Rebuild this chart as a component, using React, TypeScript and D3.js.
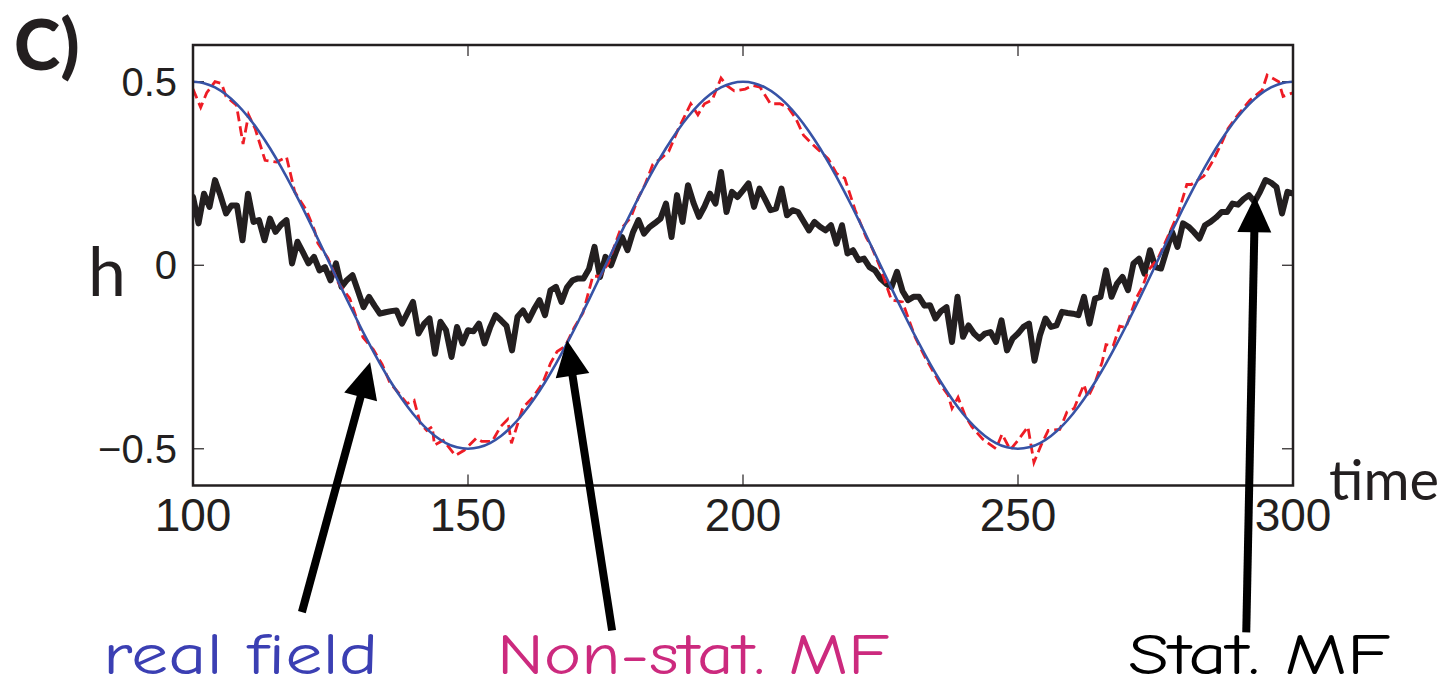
import React from "react";
import * as d3 from "d3";

// ---------- data ----------
const xTicks = [100, 150, 200, 250, 300];
const yTicks = [-0.5, 0, 0.5];
const yTickLabels = ["\u22120.5", "0", "0.5"];

// real field (step 2 in time, from t=100)
const realField = [
  0.5, 0.4961, 0.4843, 0.4649, 0.4382, 0.4045, 0.3645, 0.3187, 0.2679, 0.2129, 0.1545, 0.0937, 0.0314,
  -0.0314, -0.0937, -0.1545, -0.2129, -0.2679, -0.3187, -0.3645, -0.4045, -0.4382, -0.4649, -0.4843, -0.4961, -0.5,
  -0.4961, -0.4843, -0.4649, -0.4382, -0.4045, -0.3645, -0.3187, -0.2679, -0.2129, -0.1545, -0.0937, -0.0314,
  0.0314, 0.0937, 0.1545, 0.2129, 0.2679, 0.3187, 0.3645, 0.4045, 0.4382, 0.4649, 0.4843, 0.4961, 0.5,
  0.4961, 0.4843, 0.4649, 0.4382, 0.4045, 0.3645, 0.3187, 0.2679, 0.2129, 0.1545, 0.0937, 0.0314,
  -0.0314, -0.0937, -0.1545, -0.2129, -0.2679, -0.3187, -0.3645, -0.4045, -0.4382, -0.4649, -0.4843, -0.4961, -0.5,
  -0.4961, -0.4843, -0.4649, -0.4382, -0.4045, -0.3645, -0.3187, -0.2679, -0.2129, -0.1545, -0.0937, -0.0314,
  0.0314, 0.0937, 0.1545, 0.2129, 0.2679, 0.3187, 0.3645, 0.4045, 0.4382, 0.4649, 0.4843, 0.4961, 0.5,
];

// non-stationary MF (irregular samples)
const nonStatTimes = [
  100, 101.4, 102.5, 104, 105.2, 106, 107.9, 109.1, 110.1, 111.3, 113.1, 115.2, 117, 118.5, 120.6, 122.1, 122.7,
  124.5, 126.5, 128.5, 130.9, 132.8, 134.4, 135.8, 137.5, 138.9, 140.2, 141.3, 142.5, 143.5, 143.9, 145.5, 147.7,
  149.3, 151.5, 152.5, 154.4, 155.9, 157.2, 157.9, 160, 161.8, 163.6, 165, 166.2, 167.7, 169.3, 170.9, 172.7, 174,
  175.5, 177.7, 179.6, 181, 182.2, 183.6, 185, 186.5, 188.2, 190.5, 191.8, 193, 194.4, 196, 197, 198.4, 200.4,
  201.8, 203.1, 205, 206.7, 208.2, 209.6, 211, 213.3, 215.5, 217, 218.5, 220.4, 222.4, 223.5, 225, 227, 229,
  231.3, 233.1, 234.6, 236, 237.3, 238, 239.1, 240.4, 241.6, 243.6, 246, 247.1, 248.6, 250, 251.8, 252.9, 254.2,
  255.5, 257.6, 258.9, 260.2, 261.1, 262, 262.7, 264, 265.3, 266, 267.3, 268.5, 269.6, 271.5, 272.7, 273.7, 275.5,
  277.3, 279.1, 280.7, 281.5, 283.8, 285.5, 287, 288.2, 290, 292.2, 294.4, 295.3, 297.4, 298.2, 300,
];
const nonStatValues = [
  0.48, 0.43, 0.47, 0.5, 0.495, 0.46, 0.436, 0.33, 0.41, 0.372, 0.286, 0.281, 0.295, 0.2, 0.15, 0.095, 0.06,
  0.02, -0.05, -0.09, -0.196, -0.23, -0.27, -0.32, -0.35, -0.377, -0.368, -0.43, -0.45, -0.44, -0.49, -0.477, -0.518,
  -0.504, -0.471, -0.48, -0.48, -0.44, -0.42, -0.485, -0.387, -0.36, -0.32, -0.267, -0.235, -0.22, -0.17, -0.13, -0.03, -0.03,
  0.005, 0.097, 0.13, 0.185, 0.22, 0.275, 0.29, 0.31, 0.37, 0.44, 0.41, 0.44, 0.45, 0.51, 0.49, 0.475, 0.48,
  0.49, 0.485, 0.44, 0.44, 0.43, 0.4, 0.354, 0.32, 0.29, 0.25, 0.237, 0.15, 0.076, 0.046, -0.008, -0.095, -0.1,
  -0.196, -0.25, -0.29, -0.327, -0.354, -0.39, -0.36, -0.41, -0.44, -0.474, -0.5, -0.46, -0.503, -0.477, -0.44, -0.537, -0.49,
  -0.45, -0.447, -0.4, -0.39, -0.357, -0.325, -0.36, -0.32, -0.264, -0.216, -0.22, -0.166, -0.17, -0.09, -0.056, -0.014, 0.02,
  0.08, 0.14, 0.22, 0.22, 0.243, 0.286, 0.332, 0.373, 0.41, 0.45, 0.477, 0.518, 0.5, 0.46, 0.47,
];

// stationary MF (one sample per time unit, from t=100)
const statMF = [
  0.186, 0.114, 0.195, 0.159, 0.232, 0.19, 0.141, 0.163, 0.163, 0.068,
  0.195, 0.118, 0.123, 0.068, 0.127, 0.091, 0.11, 0.123, 0.005, 0.064,
  0.035, 0.005, 0.023, -0.014, -0.005, -0.041, 0.005, -0.059, -0.04, -0.027,
  -0.07, -0.114, -0.086, -0.11, -0.132, -0.128, -0.125, -0.123, -0.159, -0.13,
  -0.1, -0.186, -0.16, -0.145, -0.241, -0.154, -0.177, -0.25, -0.168, -0.213,
  -0.177, -0.18, -0.159, -0.213, -0.17, -0.136, -0.15, -0.165, -0.232, -0.14,
  -0.123, -0.15, -0.12, -0.095, -0.136, -0.068, -0.059, -0.1, -0.06, -0.041,
  -0.036, -0.036, -0.01, 0.05, -0.032, 0.023, 0, 0.04, 0.077, 0.041,
  0.09, 0.123, 0.086, 0.104, 0.115, 0.127, 0.168, 0.077, 0.191, 0.118,
  0.218, 0.17, 0.132, 0.16, 0.195, 0.168, 0.254, 0.145, 0.2, 0.186,
  0.204, 0.223, 0.159, 0.209, 0.18, 0.15, 0.154, 0.209, 0.136, 0.15,
  0.145, 0.12, 0.095, 0.118, 0.105, 0.095, 0.109, 0.059, 0.109, 0.032,
  0.041, 0.014, 0.018, -0.005, -0.014, -0.036, -0.05, -0.059, -0.018, -0.07,
  -0.095, -0.086, -0.086, -0.11, -0.109, -0.145, -0.125, -0.114, -0.209, -0.086,
  -0.195, -0.164, -0.186, -0.2, -0.186, -0.182, -0.209, -0.15, -0.232, -0.2,
  -0.186, -0.168, -0.159, -0.26, -0.19, -0.145, -0.168, -0.164, -0.127, -0.13,
  -0.132, -0.136, -0.086, -0.159, -0.091, -0.086, -0.014, -0.086, -0.05, -0.032,
  -0.068, 0.005, 0.018, -0.023, 0.041, -0.005, -0.009, 0.04, 0.091, 0.05,
  0.114, 0.105, 0.09, 0.073, 0.109, 0.118, 0.13, 0.145, 0.145, 0.168,
  0.165, 0.18, 0.191, 0.173, 0.2, 0.232, 0.225, 0.213, 0.141, 0.2,
  0.195,
];

// annotation arrows in data coordinates: [tailT, tailH, tipT, tipH]
const arrowRealField = [119.8, -0.945, 132.2, -0.264];
const arrowNonStat = [176.2, -0.995, 168.0, -0.204];
const arrowStat = [291.5, -1.0, 293.1, 0.188];

const labelFont = "'Comic Sans MS', 'Comic Neue', 'DejaVu Sans Condensed', 'DejaVu Sans', sans-serif";

// ---------- component ----------
export default function App() {
  const W = 1453;
  const H = 689;
  const x = d3.scaleLinear().domain([100, 300]).range([193, 1293]);
  const y = d3.scaleLinear().domain([-0.6, 0.6]).range([485.5, 45]);

  const realPts: [number, number][] = realField.map((v, i) => [100 + 2 * i, v]);
  const redPts: [number, number][] = nonStatTimes.map((t, i) => [t, nonStatValues[i]]);
  const blackPts: [number, number][] = statMF.map((v, i) => [100 + i, v]);

  const smooth = d3
    .line<[number, number]>()
    .x((d) => x(d[0]))
    .y((d) => y(d[1]))
    .curve(d3.curveNatural);
  const lin = d3
    .line<[number, number]>()
    .x((d) => x(d[0]))
    .y((d) => y(d[1]));

  const axisColor = "#231f20";
  const [x0, x1] = x.range();
  const [yb, yt] = y.range();
  const tickLen = 11;

  const arrow = (a: number[], key: string) => {
    const sx = x(a[0]);
    const sy = y(a[1]);
    const ex = x(a[2]);
    const ey = y(a[3]);
    const dx = ex - sx;
    const dy = ey - sy;
    const len = Math.hypot(dx, dy);
    const ux = dx / len;
    const uy = dy / len;
    const headL = 36;
    const headW = 17;
    const bx = ex - ux * headL;
    const by = ey - uy * headL;
    const px = -uy;
    const py = ux;
    return (
      <g key={key}>
        <line x1={sx} y1={sy} x2={bx + ux * 4} y2={by + uy * 4} stroke="#000" strokeWidth={8} />
        <polygon
          points={`${ex},${ey} ${bx + px * headW},${by + py * headW} ${bx - px * headW},${by - py * headW}`}
          fill="#000"
        />
      </g>
    );
  };

  return (
    <svg
      width={W}
      height={H}
      style={{ position: "absolute", left: 0, top: 0, background: "#fff" }}
      fontFamily="'Liberation Sans', Arial, sans-serif"
    >
      <rect x={0} y={0} width={W} height={H} fill="#fff" />
      <defs>
        <clipPath id="plotClip">
          <rect x={x0} y={yt} width={x1 - x0} height={yb - yt} />
        </clipPath>
      </defs>

      {/* ticks (inward, all four sides) */}
      {xTicks.map((t) => (
        <g key={"xt" + t}>
          <line x1={x(t)} x2={x(t)} y1={yb} y2={yb - tickLen} stroke={axisColor} strokeWidth={1.2} />
          <line x1={x(t)} x2={x(t)} y1={yt} y2={yt + tickLen} stroke={axisColor} strokeWidth={1.2} />
          <text x={x(t)} y={531} textAnchor="middle" fontSize={46} fill={axisColor}>
            {t}
          </text>
        </g>
      ))}
      {yTicks.map((v, i) => (
        <g key={"yt" + v}>
          <line x1={x0} x2={x0 + tickLen} y1={y(v)} y2={y(v)} stroke={axisColor} strokeWidth={1.2} />
          <line x1={x1} x2={x1 - tickLen} y1={y(v)} y2={y(v)} stroke={axisColor} strokeWidth={1.2} />
          <text x={177} y={y(v) + 14} textAnchor="end" fontSize={40} fill={axisColor}>
            {yTickLabels[i]}
          </text>
        </g>
      ))}

      {/* series */}
      <g clipPath="url(#plotClip)">
        <path d={lin(blackPts) || ""} fill="none" stroke="#231f20" strokeWidth={6} strokeLinejoin="round" strokeLinecap="round" />
        <path d={lin(redPts) || ""} fill="none" stroke="#ee1c25" strokeWidth={2.8} strokeDasharray="10,5" />
        <path d={smooth(realPts) || ""} fill="none" stroke="#3753a6" strokeWidth={2.6} />
      </g>

      {/* frame */}
      <rect x={x0} y={yt} width={x1 - x0} height={yb - yt} fill="none" stroke={axisColor} strokeWidth={2.5} />

      {/* axis labels */}
      <text x={88} y={296} fontSize={68} fontFamily="Lato, 'Open Sans', sans-serif" fill={axisColor}>
        h
      </text>
      <text x={1329} y={500} fontSize={56} fontFamily="Lato, 'Open Sans', sans-serif" fill={axisColor}>
        time
      </text>
      <text x={14} y={70} fontSize={70} fontWeight={900} fontFamily="Lato, 'Open Sans', sans-serif" fill={axisColor}>
        C)
      </text>

      {/* arrows */}
      {arrow(arrowRealField, "a1")}
      {arrow(arrowNonStat, "a2")}
      {arrow(arrowStat, "a3")}

      {/* annotation labels */}
      <text
        x={103}
        y={674}
        fontSize={58}
        fontFamily={labelFont}
        fill="#3b3fb3"
        textLength={275}
        lengthAdjust="spacingAndGlyphs"
      >
        real field
      </text>
      <text
        x={497}
        y={674}
        fontSize={58}
        fontFamily={labelFont}
        fill="#cc2a7e"
        textLength={392}
        lengthAdjust="spacingAndGlyphs"
      >
        Non-stat. MF
      </text>
      <text
        x={1128}
        y={674}
        fontSize={58}
        fontFamily={labelFont}
        fill="#000"
        textLength={262}
        lengthAdjust="spacingAndGlyphs"
      >
        Stat. MF
      </text>
    </svg>
  );
}
